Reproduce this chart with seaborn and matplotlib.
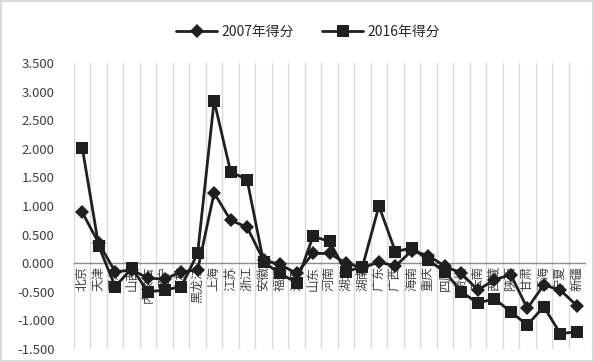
import numpy as np
import pandas as pd
import matplotlib
matplotlib.use("Agg")
import matplotlib.pyplot as plt
import seaborn as sns

# datos
provincias = ["北京", "天津", "河北", "山西", "内蒙古", "辽宁", "吉林", "黑龙江",
              "上海", "江苏", "浙江", "安徽", "福建", "江西", "山东", "河南",
              "湖北", "湖南", "广东", "广西", "海南", "重庆", "四川", "贵州",
              "云南", "西藏", "陕西", "甘肃", "青海", "宁夏", "新疆"]
score_2007 = [0.89, 0.35, -0.15, -0.12, -0.26, -0.28, -0.15, -0.12,
              1.23, 0.75, 0.63, 0.05, -0.02, -0.18, 0.17, 0.17,
              0.00, -0.08, 0.02, -0.05, 0.22, 0.13, -0.05, -0.18,
              -0.47, -0.29, -0.20, -0.79, -0.38, -0.47, -0.74]
score_2016 = [2.02, 0.30, -0.41, -0.09, -0.50, -0.47, -0.41, 0.17,
              2.84, 1.60, 1.46, 0.02, -0.18, -0.34, 0.47, 0.38,
              -0.15, -0.06, 1.00, 0.20, 0.27, 0.05, -0.15, -0.50,
              -0.70, -0.62, -0.85, -1.08, -0.76, -1.23, -1.20]
series = ["2007年得分", "2016年得分"]
yticks = [-1.5, -1.0, -0.5, 0.0, 0.5, 1.0, 1.5, 2.0, 2.5, 3.0, 3.5]

n = len(provincias)
df = pd.DataFrame({
    "pos": list(range(n)) * 2,
    "score": score_2007 + score_2016,
    "serie": [series[0]] * n + [series[1]] * n,
})

sns.set_theme(style="white")
plt.rcParams["font.family"] = ["Noto Sans CJK SC", "DejaVu Sans"]

fig = plt.figure(figsize=(5.94, 3.62), dpi=100)
ax = fig.add_axes([74 / 594, 1 - 349 / 362, (585 - 74) / 594, (349 - 63) / 362])

color = "#1f1f1f"
marcadores = {series[0]: ("D", 7), series[1]: ("s", 8.5)}
for s in series:
    m, ms = marcadores[s]
    sns.lineplot(data=df[df["serie"] == s], x="pos", y="score", ax=ax,
                 color=color, linewidth=2, marker=m, markersize=ms,
                 markeredgewidth=0, label=s, zorder=3)

# eje x cruzando en cero
for side in ["top", "right", "left"]:
    ax.spines[side].set_visible(False)
ax.spines["bottom"].set_position(("data", 0))
ax.spines["bottom"].set_color("#8c8c8c")
ax.spines["bottom"].set_linewidth(1)
ax.spines["bottom"].set_zorder(2)

ax.set_xlim(-0.5, n - 0.5)
ax.set_ylim(-1.5, 3.5)
ax.set_yticks(yticks)
ax.set_yticklabels([f"{v:.3f}" for v in yticks], fontsize=9.5, color="#404040")
ax.set_xticks(range(n))
ax.set_xticklabels(provincias, fontsize=9, color="#404040", rotation=90,
                   ha="center", va="top")
ax.set_xticks(np.arange(-0.5, n, 1), minor=True)
ax.tick_params(axis="both", which="both", length=0, pad=2)
ax.tick_params(axis="y", pad=14)
ax.xaxis.grid(True, which="minor", color="#d9d9d9", linewidth=1)
ax.xaxis.grid(False, which="major")
ax.yaxis.grid(False)
ax.set_axisbelow(True)
ax.set_xlabel("")
ax.set_ylabel("")

ax.legend(loc="center", bbox_to_anchor=(308 / 594, 1 - 32 / 362),
          bbox_transform=fig.transFigure, ncol=2, frameon=False,
          fontsize=10, handlelength=3, columnspacing=2, handletextpad=0.3)

fig.patch.set_edgecolor("#d9d9d9")
fig.patch.set_linewidth(1.5)
fig.savefig("out.png", dpi=100, edgecolor=fig.get_edgecolor())
